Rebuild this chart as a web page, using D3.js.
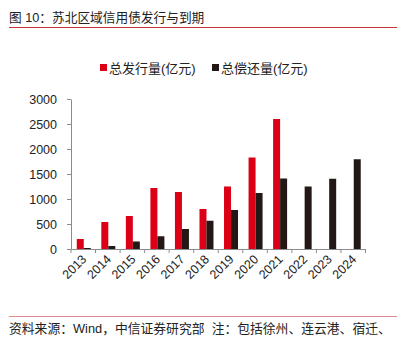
<!DOCTYPE html>
<html><head><meta charset="utf-8">
<script src="https://cdn.jsdelivr.net/npm/d3@7"></script>
<style>
html,body{margin:0;padding:0;background:#fff;}
svg{display:block;font-family:"Liberation Sans","Noto Sans CJK SC",sans-serif;}
text{white-space:pre;}
</style></head>
<body>
<svg id="c" width="402" height="339"></svg>
<script>
const years = ["2013","2014","2015","2016","2017","2018","2019","2020","2021","2022","2023","2024"];
const seriesNames = ["总发行量(亿元)","总偿还量(亿元)"];
const issuance = [200,540,660,1220,1140,800,1250,1830,2600,null,null,null];
const repayment = [20,60,150,255,400,565,780,1120,1410,1250,1405,1795];
const yTicks = [0,500,1000,1500,2000,2500,3000];
const colors = ["#dc0016","#231815"];
const titleText = "图 10：苏北区域信用债发行与到期";
const sourceText = "资料来源：Wind，中信证券研究部  注：包括徐州、连云港、宿迁、";

(function(){
const svg = d3.select("#c");
svg.append("text").attr("x",9).attr("y",22).attr("font-size",12.7).attr("fill","#222").text(titleText);
svg.append("line").attr("x1",9).attr("x2",397).attr("y1",27.5).attr("y2",27.5).attr("stroke","#c8323a").attr("stroke-width",1);
svg.append("line").attr("x1",9).attr("x2",397).attr("y1",316.5).attr("y2",316.5).attr("stroke","#e0898d").attr("stroke-width",1.2);
svg.append("text").attr("x",9).attr("y",333).attr("font-size",12.8).attr("fill","#222").text(sourceText);

const pl = 71, pr = 365.5, pt = 99, pb = 249;
const x0 = d3.scaleBand().domain(years).range([pl,pr]).padding(0);
const bw = x0.bandwidth();
const x1 = d3.scaleBand().domain(seriesNames).range([bw/2-6.5, bw/2+7.5]).padding(0);
const y = d3.scaleLinear().domain([0,3000]).range([pb,pt]);

const data = [issuance, repayment];
data.forEach((vals,si)=>{
  svg.append("g").selectAll("rect").data(years.map((yr,i)=>({yr,v:vals[i]})).filter(d=>d.v!=null))
    .join("rect")
    .attr("x",d=>x0(d.yr)+x1(seriesNames[si]))
    .attr("width",x1.bandwidth())
    .attr("y",d=>y(d.v))
    .attr("height",d=>pb-y(d.v))
    .attr("fill",colors[si]);
});

const ya = svg.append("g").attr("transform",`translate(${pl},0)`)
  .call(d3.axisLeft(y).tickValues(yTicks).tickSize(4).tickSizeOuter(0).tickFormat(d3.format("d")));
ya.select(".domain").attr("stroke","#8c8c8c");
ya.selectAll(".tick line").attr("stroke","#8c8c8c");
ya.selectAll(".tick text").attr("font-size",12.5).attr("fill","#222").attr("x",-14).attr("font-family","Liberation Sans, sans-serif");

const xa = svg.append("g").attr("transform",`translate(0,${pb})`)
  .call(d3.axisBottom(x0).tickSize(0));
xa.select(".domain").attr("stroke","#8c8c8c");
xa.selectAll(".tick line").remove();
svg.append("g").selectAll("line").data(years.concat(["__end"]))
  .join("line")
  .attr("x1",(d,i)=> i<years.length ? x0(d) : pr)
  .attr("x2",(d,i)=> i<years.length ? x0(d) : pr)
  .attr("y1",pb).attr("y2",pb+4).attr("stroke","#8c8c8c");
xa.selectAll(".tick text")
  .attr("font-size",12.5).attr("fill","#222").attr("font-family","Liberation Sans, sans-serif")
  .attr("text-anchor","end").attr("dy",0).attr("y",0)
  .attr("transform","translate(4,11) rotate(-45)");

const lg = svg.append("g");
const legPos = [100,212];
seriesNames.forEach((n,i)=>{
  lg.append("rect").attr("x",legPos[i]).attr("y",64).attr("width",7).attr("height",7).attr("fill",colors[i]);
  lg.append("text").attr("x",legPos[i]+9).attr("y",72.5).attr("font-size",13).attr("fill","#222").text(n);
});
})();
</script>
</body></html>
